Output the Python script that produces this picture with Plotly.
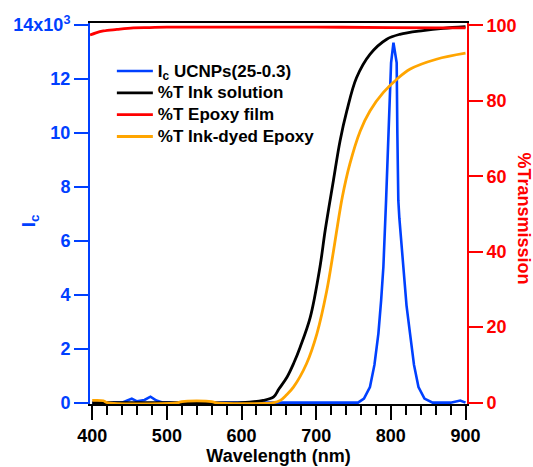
import plotly.graph_objects as go

# ---- data ----
wl_ink = [400, 500, 600, 629, 643, 650, 661, 670, 678.5, 692, 705, 712, 723, 732, 741, 754, 772, 794.5, 812, 843, 870, 900]
t_ink = [0, 0, 0, 0.6, 1.5, 3.6, 6.8, 10.5, 14.7, 22.6, 35.9, 45.6, 58.8, 69.4, 77.3, 86.1, 92.3, 96.3, 97.6, 98.6, 99.2, 99.6]

wl_dyed = [400, 415, 420, 515, 520, 560, 565, 643, 652, 660, 669.5, 687, 701, 714, 723, 727, 735, 745, 759, 772, 790, 808, 826, 861, 900]
t_dyed = [0.6, 0.5, 0, 0, 0.3, 0.3, 0, 0, 0.6, 2.0, 4.1, 10.3, 18.3, 29.5, 40, 45, 54.5, 63.2, 72, 77.3, 82.2, 85.7, 88.4, 91.0, 92.6]

wl_epoxy = [397, 405, 415, 433, 455, 477, 500, 600, 700, 800, 860, 900]
t_epoxy = [97.4, 98.0, 98.5, 98.9, 99.3, 99.4, 99.5, 99.5, 99.5, 99.4, 99.3, 99.3]

wl_ic = [400, 440, 447, 453, 460, 470, 478, 486, 495, 540, 548, 556, 600, 700, 756, 764, 772, 778, 783.3, 787, 790,
         793.6, 796.7, 800.3, 803.5, 807.8, 808.7, 810, 811.4, 816.8, 821, 825.7, 831, 837, 845, 856, 880, 893, 900]
ic = [0, 0, 0.08, 0.15, 0.05, 0.1, 0.22, 0.08, 0, 0, 0.05, 0, 0, 0, 0, 0.15, 0.58, 1.4, 2.56, 3.8, 5.04,
      7.5, 10.0, 12.6, 13.35, 12.6, 10.0, 7.5, 6.84, 5.04, 3.6, 2.56, 1.4, 0.58, 0.15, 0, 0, 0.08, 0]

series_names = ["I<sub>c</sub> UCNPs(25-0.3)", "%T Ink solution", "%T Epoxy film", "%T Ink-dyed Epoxy"]

left_tickvals = [0, 2, 4, 6, 8, 10, 12, 14]
left_ticktext = ["0", "2", "4", "6", "8", "10", "12", "14x10<sup>3</sup>"]
right_tickvals = [0, 20, 40, 60, 80, 100]
x_tickvals = [400, 500, 600, 700, 800, 900]

BLUE = "#0040ff"
RED = "#ff0000"
ORANGE = "#ffa500"
FONT = "Liberation Sans, Arial, sans-serif"


def leg(name):
    # larger glyphs inside a compact legend row
    return '<span style="font-size:17px">' + name + '</span>'


fig = go.Figure()
fig.add_trace(go.Scatter(x=wl_ic, y=ic, mode="lines", name=leg(series_names[0]),
                         line=dict(color=BLUE, width=2.6), yaxis="y"))
fig.add_trace(go.Scatter(x=wl_ink, y=t_ink, mode="lines", name=leg(series_names[1]),
                         line=dict(color="black", width=2.8, shape="spline", smoothing=1.0), yaxis="y2"))
fig.add_trace(go.Scatter(x=wl_epoxy, y=t_epoxy, mode="lines", name=leg(series_names[2]),
                         line=dict(color=RED, width=2.8, shape="spline", smoothing=1.0), yaxis="y2"))
fig.add_trace(go.Scatter(x=wl_dyed, y=t_dyed, mode="lines", name=leg(series_names[3]),
                         line=dict(color=ORANGE, width=2.8, shape="spline", smoothing=1.0), yaxis="y2"))

fig.update_layout(
    width=533, height=467,
    margin=dict(l=90, r=66, t=23, b=63, autoexpand=False),
    plot_bgcolor="white", paper_bgcolor="white",
    font=dict(family=FONT, size=18, color="black", weight="bold"),
    showlegend=True,
    legend=dict(x=0.058, y=0.916, xanchor="left", yanchor="top",
                bgcolor="rgba(0,0,0,0)", font=dict(size=14.5, family=FONT, weight="bold"),
                itemwidth=36, tracegroupgap=0),
    xaxis=dict(range=[397, 902], showline=True, linecolor="black", linewidth=2, mirror=True,
               ticks="outside", ticklen=14, tickwidth=2, tickcolor="black", automargin=False,
               tickvals=x_tickvals, showgrid=False, zeroline=False,
               minor=dict(dtick=20, tick0=400, ticks="outside", ticklen=9, tickwidth=2, tickcolor="black"),
               title=dict(text="Wavelength (nm)", font=dict(size=18, weight="bold"), standoff=4),
               tickfont=dict(size=18, weight="bold")),
    yaxis=dict(range=[-0.05, 14.08], showline=True, linecolor=BLUE, linewidth=2, automargin=False,
               ticks="outside", ticklen=14, tickwidth=2, tickcolor=BLUE,
               tickvals=left_tickvals, ticktext=left_ticktext, showgrid=False, zeroline=False,
               tickfont=dict(size=18, color=BLUE, weight="bold")),
    yaxis2=dict(range=[-0.36, 100.6], overlaying="y", side="right", showline=True, linecolor=RED, linewidth=2,
                ticks="outside", ticklen=14, tickwidth=2, tickcolor=RED, automargin=False,
                tickvals=right_tickvals, showgrid=False, zeroline=False,
                tickfont=dict(size=18, color=RED, weight="bold")),
    annotations=[
        dict(text="%Transmission", textangle=90, xref="paper", yref="paper",
             x=1.150, y=0.488, xanchor="center", yanchor="middle", showarrow=False, borderpad=0,
             font=dict(size=18, color=RED, family=FONT, weight="bold")),
        dict(text="I<sub>c</sub>", textangle=-90, xref="paper", yref="paper",
             x=-0.159, y=0.48, xanchor="center", yanchor="middle", showarrow=False,
             font=dict(size=19, color=BLUE, family=FONT, weight="bold")),
    ],
)

fig.write_html("out.html", config={"displayModeBar": False},
               post_script="document.body.style.margin='0';")
